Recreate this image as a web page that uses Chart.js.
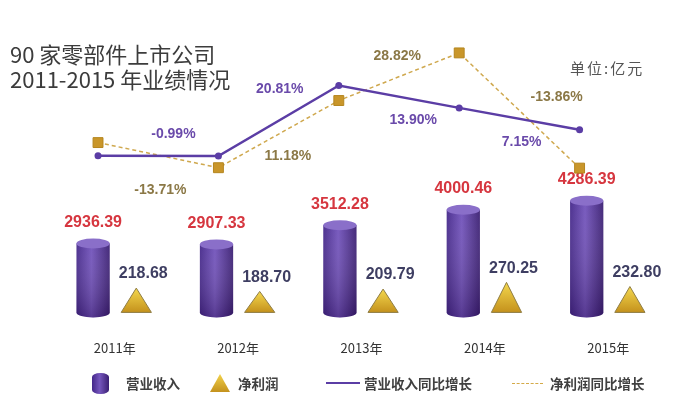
<!DOCTYPE html>
<html>
<head>
<meta charset="utf-8">
<script src="https://cdn.jsdelivr.net/npm/chart.js@4.4.1/dist/chart.umd.min.js"></script>
<style>
  body { margin: 0; background: #fff; }
  #wrap { position: relative; width: 679px; height: 398px; background: #fff; }
  #wrap canvas { position: absolute; left: 0; top: 0; }
  .title { position: absolute; left: 10px; top: 41px; font: 22px/24.5px "Noto Sans CJK SC", sans-serif; color: #3c3c3c; white-space: nowrap; }
  .unit { position: absolute; left: 570px; top: 59px; font: 15px/18px "Noto Sans CJK SC", sans-serif; color: #555; letter-spacing: 2px; }
  .lg { position: absolute; top: 375px; font: bold 13.5px/16px "Noto Sans CJK SC", sans-serif; color: #404040; white-space: nowrap; }
  .cyl { position: absolute; left: 92px; top: 373px; width: 17px; height: 21px; border-radius: 8px / 4px;
         background: linear-gradient(90deg, #44278a, #7556bd 45%, #3a1f72); }
  .tri { position: absolute; left: 210px; top: 374px; width: 20px; height: 18px;
         clip-path: polygon(50% 0, 100% 100%, 0 100%); background: linear-gradient(#f2d24a, #c4921d); }
  .ln { position: absolute; left: 326px; top: 382px; width: 34px; border-top: 2px solid #5b3da5; }
  .dl { position: absolute; left: 512px; top: 383px; width: 31px; border-top: 1.5px dashed #d4aa48; }
</style>
</head>
<body>
<div id="wrap">
  <canvas id="bars" width="679" height="398"></canvas>
  <canvas id="lines" width="679" height="398"></canvas>
  <div class="title">90 家零部件上市公司<br>2011-2015 年业绩情况</div>
  <div class="unit">单位:亿元</div>
  <div class="cyl"></div><span class="lg" style="left:126px">营业收入</span>
  <div class="tri"></div><span class="lg" style="left:238px">净利润</span>
  <div class="ln"></div><span class="lg" style="left:364px">营业收入同比增长</span>
  <div class="dl"></div><span class="lg" style="left:550px">净利润同比增长</span>
</div>
<script>
const years = ["2011年", "2012年", "2013年", "2014年", "2015年"];
const revenue = [2936.39, 2907.33, 3512.28, 4000.46, 4286.39];
const profit = [218.68, 188.70, 209.79, 270.25, 232.80];
// 2011 growth points carry no label, values estimated from their height
const revGrowth = [-0.9, -0.99, 20.81, 13.90, 7.15];
const profitGrowth = [-4.4, -13.71, 11.18, 28.82, -13.86];

// where each growth label sits relative to its point
const revGrowthLabelOffset = [null, [-45, -22], [-59, 4], [-46, 12], [-58, 12]];
const profitGrowthLabelOffset = [null, [-58, 22], [-51, 56], [-62, 3], [-23, -71]];

const revAxisMin = 760;
const labelFont = '"Liberation Sans", Arial, sans-serif';

function drawCylinder(ctx, bar) {
  const p = bar.getProps(["x", "y", "base", "width"], true);
  const l = p.x - p.width / 2, r = p.x + p.width / 2, rx = p.width / 2, ry = 5;
  ctx.save();
  ctx.beginPath();
  ctx.moveTo(l, p.y);
  ctx.lineTo(l, p.base);
  ctx.ellipse(p.x, p.base, rx, ry, 0, Math.PI, 0, true);
  ctx.lineTo(r, p.y);
  ctx.closePath();
  const g = ctx.createLinearGradient(l, 0, r, 0);
  g.addColorStop(0, "#44278a");
  g.addColorStop(0.45, "#7152bb");
  g.addColorStop(1, "#3a1e72");
  ctx.fillStyle = g;
  ctx.fill();
  const v = ctx.createLinearGradient(0, p.y, 0, p.base + ry);
  v.addColorStop(0, "rgba(255,255,255,0.05)");
  v.addColorStop(1, "rgba(25,0,50,0.3)");
  ctx.fillStyle = v;
  ctx.fill();
  ctx.beginPath();
  ctx.ellipse(p.x, p.y, rx, ry, 0, 0, Math.PI * 2);
  ctx.fillStyle = "#8a6fc9";
  ctx.fill();
  ctx.restore();
}

function drawTriangle(ctx, bar) {
  const p = bar.getProps(["x", "y", "base", "width"], true);
  const w = p.width / 2;
  ctx.save();
  ctx.beginPath();
  ctx.moveTo(p.x, p.y);
  ctx.lineTo(p.x + w, p.base);
  ctx.lineTo(p.x - w, p.base);
  ctx.closePath();
  const g = ctx.createLinearGradient(0, p.y, 0, p.base);
  g.addColorStop(0, "#f4d84e");
  g.addColorStop(1, "#c4911c");
  ctx.fillStyle = g;
  ctx.fill();
  ctx.strokeStyle = "#8f7d45";
  ctx.lineWidth = 1;
  ctx.stroke();
  ctx.restore();
}

const marks = {
  id: "marks",
  afterDatasetDraw(chart, args) {
    const ds = chart.data.datasets[args.index];
    if (ds.kind === "rev") args.meta.data.forEach((b) => drawCylinder(chart.ctx, b));
    if (ds.kind === "profit") args.meta.data.forEach((b) => drawTriangle(chart.ctx, b));
  },
  afterDatasetsDraw(chart) {
    const ctx = chart.ctx;
    ctx.save();
    ctx.textAlign = "center";
    ctx.textBaseline = "middle";
    chart.data.datasets.forEach((ds, i) => {
      const meta = chart.getDatasetMeta(i);
      meta.data.forEach((el, j) => {
        if (ds.kind === "rev") {
          ctx.font = "bold 16px " + labelFont;
          ctx.fillStyle = "#d6363f";
          ctx.fillText(revenue[j].toFixed(2), el.x, el.y - 21);
        } else if (ds.kind === "profit") {
          ctx.font = "bold 16px " + labelFont;
          ctx.fillStyle = "#3e3e62";
          ctx.fillText(profit[j].toFixed(2), el.x + 7, el.y - 14);
        } else if (ds.kind === "revG" && revGrowthLabelOffset[j]) {
          ctx.font = "bold 14px " + labelFont;
          ctx.fillStyle = "#6a4aaa";
          const o = revGrowthLabelOffset[j];
          ctx.fillText(revGrowth[j].toFixed(2) + "%", el.x + o[0], el.y + o[1]);
        } else if (ds.kind === "profitG" && profitGrowthLabelOffset[j]) {
          ctx.font = "bold 14px " + labelFont;
          ctx.fillStyle = "#8b7846";
          const o = profitGrowthLabelOffset[j];
          ctx.fillText(profitGrowth[j].toFixed(2) + "%", el.x + o[0], el.y + o[1]);
        }
      });
    });
    ctx.restore();
  },
};

// bars: revenue cylinders and profit triangles, with the year axis
new Chart(document.getElementById("bars"), {
  type: "bar",
  data: {
    labels: years,
    datasets: [
      {
        kind: "rev",
        label: "营业收入",
        data: revenue,
        yAxisID: "yr",
        base: revAxisMin,
        backgroundColor: "rgba(0,0,0,0)",
        barPercentage: 0.77,
      },
      {
        kind: "profit",
        label: "净利润",
        data: profit,
        yAxisID: "yp",
        backgroundColor: "rgba(0,0,0,0)",
        barPercentage: 0.7,
      },
    ],
  },
  options: {
    responsive: false,
    animation: false,
    datasets: { bar: { categoryPercentage: 0.7 } },
    layout: { padding: { left: 53, right: 9, top: 40, bottom: 14 } },
    plugins: { legend: { display: false }, tooltip: { enabled: false } },
    scales: {
      x: {
        grid: { display: false, drawTicks: false },
        border: { display: false },
        ticks: { padding: 28, color: "#333", font: { family: '"Noto Sans CJK SC", sans-serif', size: 13 } },
      },
      yr: { display: false, min: revAxisMin, max: 9362 },
      yp: { display: false, min: 0, max: 2450 },
    },
  },
  plugins: [marks],
});

// growth lines, drawn over the bars on a second canvas with the same plot area
new Chart(document.getElementById("lines"), {
  type: "line",
  data: {
    datasets: [
      {
        kind: "revG",
        label: "营业收入同比增长",
        data: revGrowth.map((v, i) => ({ x: i, y: v })),
        yAxisID: "yg1",
        borderColor: "#5b3da5",
        borderWidth: 2.5,
        pointRadius: 3.5,
        pointBackgroundColor: "#5b3da5",
        pointBorderWidth: 0,
        tension: 0,
      },
      {
        kind: "profitG",
        label: "净利润同比增长",
        data: profitGrowth.map((v, i) => ({ x: i, y: v })),
        yAxisID: "yg2",
        borderColor: "#cfa84e",
        borderWidth: 1.5,
        borderDash: [4, 3],
        pointStyle: "rect",
        pointRadius: 7,
        pointBackgroundColor: "#c9962a",
        pointBorderColor: "#b5861f",
        pointBorderWidth: 1,
        tension: 0,
      },
    ],
  },
  options: {
    responsive: false,
    animation: false,
    layout: { padding: { left: 53, right: 9, top: 40, bottom: 84 } },
    plugins: { legend: { display: false }, tooltip: { enabled: false } },
    scales: {
      x: { type: "linear", display: false, min: -0.374, max: 4.751 },
      yg1: { display: false, min: -49.8, max: 34.88 },
      yg2: { display: false, min: -67.9, max: 33.6 },
    },
  },
  plugins: [marks],
});
</script>
</body>
</html>
